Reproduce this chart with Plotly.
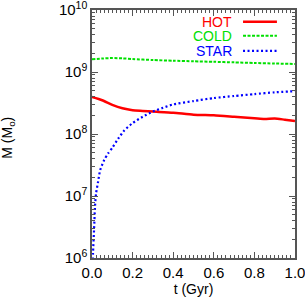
import plotly.graph_objects as go

hot_t = [0, 0.05, 0.1, 0.15, 0.2, 0.25, 0.3, 0.4, 0.5, 0.6, 0.7, 0.8, 0.85, 0.9, 0.95, 1.0]
hot_m = [3.95e8, 3.5e8, 2.95e8, 2.6e8, 2.42e8, 2.36e8, 2.3e8, 2.2e8, 2.05e8, 2.0e8, 1.9e8, 1.8e8, 1.75e8, 1.78e8, 1.7e8, 1.62e8]

cold_t = [0, 0.05, 0.1, 0.15, 0.2, 0.3, 0.4, 0.5, 0.6, 0.7, 0.8, 0.9, 1.0]
cold_m = [1.6e9, 1.65e9, 1.68e9, 1.66e9, 1.62e9, 1.56e9, 1.52e9, 1.49e9, 1.46e9, 1.43e9, 1.4e9, 1.37e9, 1.35e9]

star_t = [0.003, 0.005, 0.01, 0.015, 0.02, 0.03, 0.04, 0.06, 0.08, 0.1, 0.13, 0.16, 0.2, 0.25,
          0.3, 0.35, 0.4, 0.5, 0.6, 0.7, 0.8, 0.9, 1.0]
star_m = [8e5, 1.2e6, 2.8e6, 7e6, 1.1e7, 1.7e7, 2.6e7, 3.8e7, 4.9e7, 6e7, 8.5e7, 1.15e8, 1.5e8, 1.9e8,
          2.3e8, 2.65e8, 3.0e8, 3.4e8, 3.8e8, 4.1e8, 4.4e8, 4.7e8, 4.9e8]

series_names = ["HOT", "COLD", "STAR"]
series_colors = ["#ff0000", "#00e000", "#0000ff"]
series_dash = ["solid", "3px,1.5px", "2px,2.5px"]
series_width = [2.5, 2, 2.2]

x_ticks = [0.0, 0.2, 0.4, 0.6, 0.8, 1.0]
x_ticklabels = ["0.0", "0.2", "0.4", "0.6", "0.8", "1.0"]
y_ticks = [1e6, 1e7, 1e8, 1e9, 1e10]
y_ticklabels = ["10<sup>6</sup>", "10<sup>7</sup>", "10<sup>8</sup>", "10<sup>9</sup>", "10<sup>10</sup>"]

fig = go.Figure()
data = [(hot_t, hot_m), (cold_t, cold_m), (star_t, star_m)]
for (t, m), name, c, d, w in zip(data, series_names, series_colors, series_dash, series_width):
    fig.add_trace(go.Scatter(x=t, y=m, mode="lines", name=name, showlegend=False,
                             line=dict(color=c, width=w, dash=d, shape="spline", smoothing=0.6)))

axcol = "#555555"
font = "Liberation Sans, Arial, sans-serif"

fig.update_xaxes(range=[0, 1], tickvals=x_ticks, ticktext=x_ticklabels, ticks="inside", ticklen=6,
                 tickwidth=1, tickcolor=axcol, showline=True, linecolor=axcol, linewidth=1.5, mirror="allticks",
                 showgrid=False, zeroline=False, automargin=False, ticklabeloverflow="allow",
                 minor=dict(ticks="inside", ticklen=3, dtick=0.02, tickcolor=axcol, showgrid=False),
                 tickfont=dict(size=15, color="black", family=font),
                 title=dict(text="t (Gyr)", font=dict(size=14, color="black", family=font), standoff=4))
fig.update_yaxes(type="log", range=[6, 10], tickvals=y_ticks, ticktext=y_ticklabels, ticks="inside", ticklen=6,
                 tickwidth=1, tickcolor=axcol, showline=True, linecolor=axcol, linewidth=1.5, mirror="allticks",
                 showgrid=False, zeroline=False, automargin=False, ticklabeloverflow="allow",
                 minor=dict(ticks="inside", ticklen=3, dtick="D1", tickcolor=axcol, showgrid=False),
                 tickfont=dict(size=15, color="black", family=font))

fig.add_annotation(xref="paper", yref="paper", x=-0.415, y=0.484, text="M (M<sub>o</sub>)", textangle=-90,
                   showarrow=False, xanchor="center", yanchor="middle",
                   font=dict(size=14, color="black", family=font))

# legend drawn as text + sample lines in paper coordinates
leg_y = [0.953, 0.896, 0.835]
for name, c, d, w, yy in zip(series_names, series_colors, series_dash, series_width, leg_y):
    fig.add_annotation(xref="paper", yref="paper", x=0.70, y=yy, text=name, showarrow=False,
                       xanchor="right", yanchor="middle", font=dict(size=14, color=c, family=font))
    fig.add_shape(type="line", xref="paper", yref="paper", x0=0.744, x1=0.911, y0=yy, y1=yy,
                  line=dict(color=c, width=w, dash=d))

fig.update_layout(width=305, height=303, margin=dict(l=92, r=10, t=10, b=45),
                  plot_bgcolor="white", paper_bgcolor="white", font=dict(family=font))
fig.write_html("out.html", config={"displayModeBar": False},
               post_script="document.body.style.margin='0';")
